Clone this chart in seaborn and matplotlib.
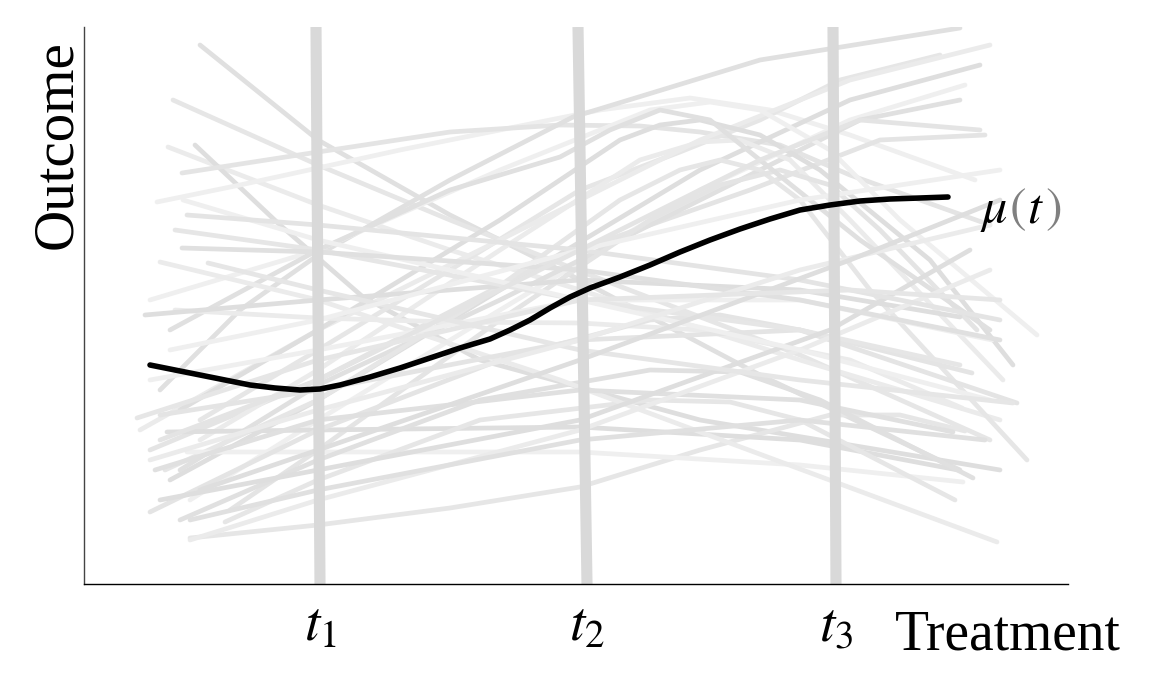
import pandas as pd
import seaborn as sns
import matplotlib.pyplot as plt

sns.set_theme(style="white")
plt.rcParams["mathtext.fontset"] = "stix"
plt.rcParams["text.color"] = "black"

# treatment positions of the three marked doses (top and bottom of each band)
t_labels = ["$t_1$", "$t_2$", "$t_3$"]
t_top = [316, 578, 833]
t_bottom = [320, 587, 836]

# individual response curves: treatment values and outcome values
curve_x = [
    [200, 318, 450, 580, 760, 960],
    [173, 318, 450, 577, 800, 990],
    [168, 318, 450, 580, 800, 1000],
    [195, 280, 363, 480, 700, 1000],
    [157, 240, 318, 400, 500, 600, 690, 770, 850, 975],
    [182, 318, 450, 560, 640, 700, 780, 850, 990],
    [160, 240, 318, 450, 573, 760, 960],
    [200, 318, 450, 580, 680, 760, 840, 940],
    [140, 318, 500, 700, 850, 990],
    [170, 318, 500, 700, 850, 980],
    [190, 318, 500, 700, 850, 965],
    [150, 318, 550, 750, 880, 985],
    [180, 318, 500, 700, 860, 960],
    [165, 318, 480, 620, 680, 720, 760, 800, 870, 1027],
    [200, 318, 500, 640, 700, 740, 790, 850, 1003],
    [180, 318, 500, 620, 660, 700, 760, 820, 930, 1013],
    [150, 318, 500, 650, 710, 760, 830, 900, 1037],
    [230, 318, 500, 650, 720, 780, 830, 880, 977],
    [170, 318, 450, 560, 610, 660, 710, 760, 860, 990],
    [190, 318, 450, 580, 700, 830, 900, 965],
    [175, 318, 450, 580, 700, 850, 962],
    [167, 318, 580, 800, 958],
    [187, 318, 580, 800, 963],
    [150, 318, 500, 650, 720, 800, 1017],
    [180, 318, 480, 650, 740, 820, 973],
    [225, 318, 480, 650, 730, 800, 955],
    [160, 318, 560, 843, 997],
    [145, 318, 580, 800, 960],
    [150, 318, 580, 800, 992],
    [160, 318, 580, 800, 972],
    [155, 318, 580, 800, 953],
    [175, 318, 580, 800, 960],
    [190, 318, 580, 800, 990],
    [160, 318, 580, 830, 970],
    [183, 318, 580, 800, 990],
    [187, 318, 580, 800, 1000],
    [182, 318, 580, 800, 1000],
    [208, 318, 580, 800, 1013],
    [150, 318, 580, 800, 990],
    [200, 318, 580, 850, 1000],
    [170, 318, 580, 800, 1000],
    [160, 318, 580, 760, 860, 980],
    [190, 318, 580, 800, 985],
    [137, 318, 580, 850, 1000],
]
curve_y = [
    [555, 460, 385, 320, 225, 130],
    [500, 435, 380, 330, 245, 160],
    [453, 395, 350, 310, 240, 180],
    [455, 375, 303, 240, 180, 130],
    [398, 415, 432, 450, 470, 490, 502, 490, 465, 420],
    [427, 448, 468, 475, 474, 468, 455, 425, 375],
    [210, 290, 345, 420, 483, 540, 572],
    [180, 250, 330, 410, 448, 480, 520, 545],
    [170, 270, 360, 460, 520, 555],
    [120, 200, 310, 430, 500, 535],
    [100, 180, 290, 410, 480, 515],
    [150, 220, 340, 410, 460, 465],
    [130, 215, 300, 400, 480, 500],
    [130, 200, 300, 400, 430, 440, 430, 400, 310, 140],
    [160, 230, 350, 440, 458, 460, 440, 380, 220],
    [190, 270, 380, 460, 475, 480, 465, 430, 340, 235],
    [300, 350, 430, 490, 498, 490, 450, 380, 265],
    [90, 150, 280, 380, 415, 430, 415, 370, 270],
    [270, 350, 410, 443, 470, 490, 480, 440, 360, 270],
    [62, 75, 92, 113, 150, 185, 185, 169],
    [290, 282, 278, 277, 270, 240, 192],
    [168, 170, 173, 160, 130],
    [148, 148, 148, 135, 118],
    [88, 170, 240, 280, 285, 270, 197],
    [80, 140, 200, 230, 228, 200, 122],
    [78, 120, 180, 200, 198, 180, 100],
    [338, 300, 220, 115, 58],
    [285, 300, 320, 310, 283],
    [220, 250, 300, 300, 260],
    [185, 210, 260, 270, 227],
    [130, 180, 210, 200, 168],
    [370, 350, 300, 270, 235],
    [60, 100, 170, 250, 330],
    [100, 130, 180, 270, 350],
    [400, 360, 300, 250, 200],
    [385, 375, 350, 320, 280],
    [352, 348, 330, 300, 260],
    [337, 310, 250, 220, 197],
    [140, 190, 260, 330, 375],
    [110, 150, 240, 340, 400],
    [250, 280, 350, 400, 430],
    [160, 220, 350, 440, 480, 470],
    [80, 110, 160, 180, 160],
    [182, 240, 300, 310, 300],
]

# average response mu(t)
mean_x = [150, 175, 200, 225, 250, 275, 300, 320, 340, 370, 400, 430, 460, 490, 510, 530,
          550, 570, 590, 620, 650, 680, 710, 740, 770, 800, 830, 860, 890, 920, 948]
mean_y = [235, 230, 225, 220, 215, 212, 210, 211, 215, 223, 232, 242, 252, 261, 270, 280,
          292, 303, 312, 323, 335, 348, 360, 371, 381, 390, 395, 399, 401, 402, 403]

rows = []
for i, (xs, ys) in enumerate(zip(curve_x, curve_y)):
    for x, y in zip(xs, ys):
        rows.append({"curve": i, "treatment": x, "outcome": y})
curves = pd.DataFrame(rows)

grays = ["#e0e0e0", "#e6e6e6", "#ebebeb", "#dedede", "#efefef", "#e4e4e4"]
palette = [grays[i % len(grays)] for i in range(len(curve_x))]

fig = plt.figure(figsize=(11.69, 6.95), dpi=100)
ax = fig.add_axes([84 / 1169, 111 / 695, 984 / 1169, 557 / 695])

sns.lineplot(data=curves, x="treatment", y="outcome", hue="curve", units="curve",
             estimator=None, palette=palette, linewidth=3.4, legend=False, ax=ax)

# thick grey bands at t1, t2, t3
for top, bot in zip(t_top, t_bottom):
    ax.plot([bot, top], [16, 573], color="#d9d9d9", linewidth=8, solid_capstyle="butt")

sns.lineplot(x=mean_x, y=mean_y, color="black", linewidth=4, ax=ax, sort=False)

ax.set_xlim(84, 1068)
ax.set_ylim(16, 573)
ax.set_xticks([])
ax.set_yticks([])
ax.set_xlabel("")
ax.set_ylabel("")
for side in ["top", "right"]:
    ax.spines[side].set_visible(False)
ax.spines["left"].set_color("#444444")
ax.spines["bottom"].set_color("black")
ax.spines["left"].set_linewidth(1.0)
ax.spines["bottom"].set_linewidth(1.0)

# t labels below the axis
for lab, bot in zip(t_labels, t_bottom):
    fig.text(bot / 1169, 1 - 641 / 695, lab, ha="center", va="baseline", fontsize=40)

fig.text(0.7656, 1 - 650 / 695, "Treatment", family="Liberation Serif", fontsize=40,
         va="baseline", ha="left")
fig.text(57 / 1169, 1 - 145 / 695, "Outcome", family="Liberation Serif", fontsize=41,
         rotation=90, va="center", ha="center")

# mu(t) label with grey brackets
fig.canvas.draw()
r = fig.canvas.get_renderer()
inv = fig.transFigure.inverted()
xpos = 980 / 1169
ypos = 1 - 222 / 695
for s, c in [("$\\mu$", "black"), ("$($", "#808080"), ("$t$", "black"), ("$)$", "#808080")]:
    t = fig.text(xpos, ypos, s, color=c, fontsize=36, va="baseline", ha="left")
    bb = t.get_window_extent(renderer=r)
    xpos = inv.transform((bb.x1 + 1, bb.y0))[0]

fig.savefig("out.png", dpi=100)
